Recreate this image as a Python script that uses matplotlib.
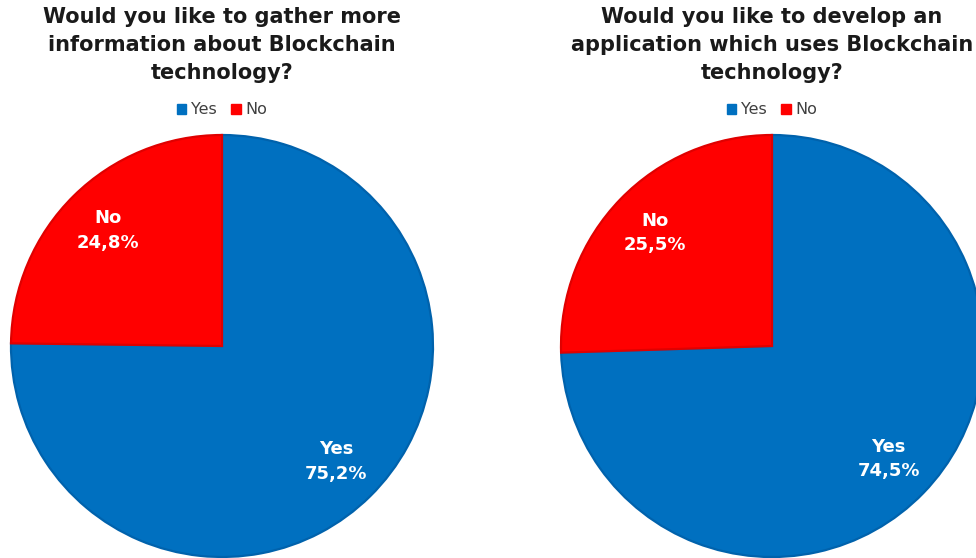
import numpy as np
import matplotlib
matplotlib.use("Agg")
import matplotlib.pyplot as plt
from matplotlib.patches import Patch

# survey answers (percent)
answers = ["Yes", "No"]
gather_info = [75.2, 24.8]
develop_app = [74.5, 25.5]
titles = ["Would you like to gather more\ninformation about Blockchain\ntechnology?",
          "Would you like to develop an\napplication which uses Blockchain\ntechnology?"]

colors = ["#0070C0", "#FF0000"]
edges = ["#0062AC", "#E00000"]

plt.rcParams['font.family'] = ['DejaVu Sans']

W, H = 976, 558
fig = plt.figure(figsize=(W / 100, H / 100), dpi=100)

R = 211  # pie radius in px
centers = [(222, 346), (772, 346)]


def draw_pie(cx, cy, values, title):
    ax = fig.add_axes([(cx - R) / W, (H - cy - R) / H, 2 * R / W, 2 * R / H])
    ax.set_clip_on(False)
    wedges, _ = ax.pie(values, colors=colors, startangle=90, counterclock=False,
                       radius=1, wedgeprops=dict(linewidth=1.6))
    for w, ec in zip(wedges, edges):
        w.set_edgecolor(ec)
    ax.set_xlim(-1, 1)
    ax.set_ylim(-1, 1)
    ax.set_aspect("equal")
    ax.axis("off")
    # labels in the middle of each slice
    for w, name, v in zip(wedges, answers, values):
        mid = np.deg2rad((w.theta1 + w.theta2) / 2)
        x, y = 0.77 * np.cos(mid), 0.77 * np.sin(mid)
        ax.text(x, y, name + "\n" + ("%.1f%%" % v).replace(".", ","),
                ha="center", va="center", color="white", fontsize=13,
                fontweight="bold", linespacing=1.45)
    fig.text(cx / W, 1 - 7 / H, title, ha="center", va="top", fontsize=15,
             fontweight="bold", color="#1a1a1a", linespacing=1.5)
    handles = [Patch(facecolor=c, edgecolor=c) for c in colors]
    fig.legend(handles, answers, loc="center", bbox_to_anchor=(cx / W, 1 - 110 / H),
               ncol=2, frameon=False, fontsize=11.5, handlelength=0.6, handleheight=0.6,
               handletextpad=0.3, columnspacing=0.9, labelcolor="#404040")


for (cx, cy), vals, t in zip(centers, [gather_info, develop_app], titles):
    draw_pie(cx, cy, vals, t)

fig.savefig("out.png", dpi=100)
